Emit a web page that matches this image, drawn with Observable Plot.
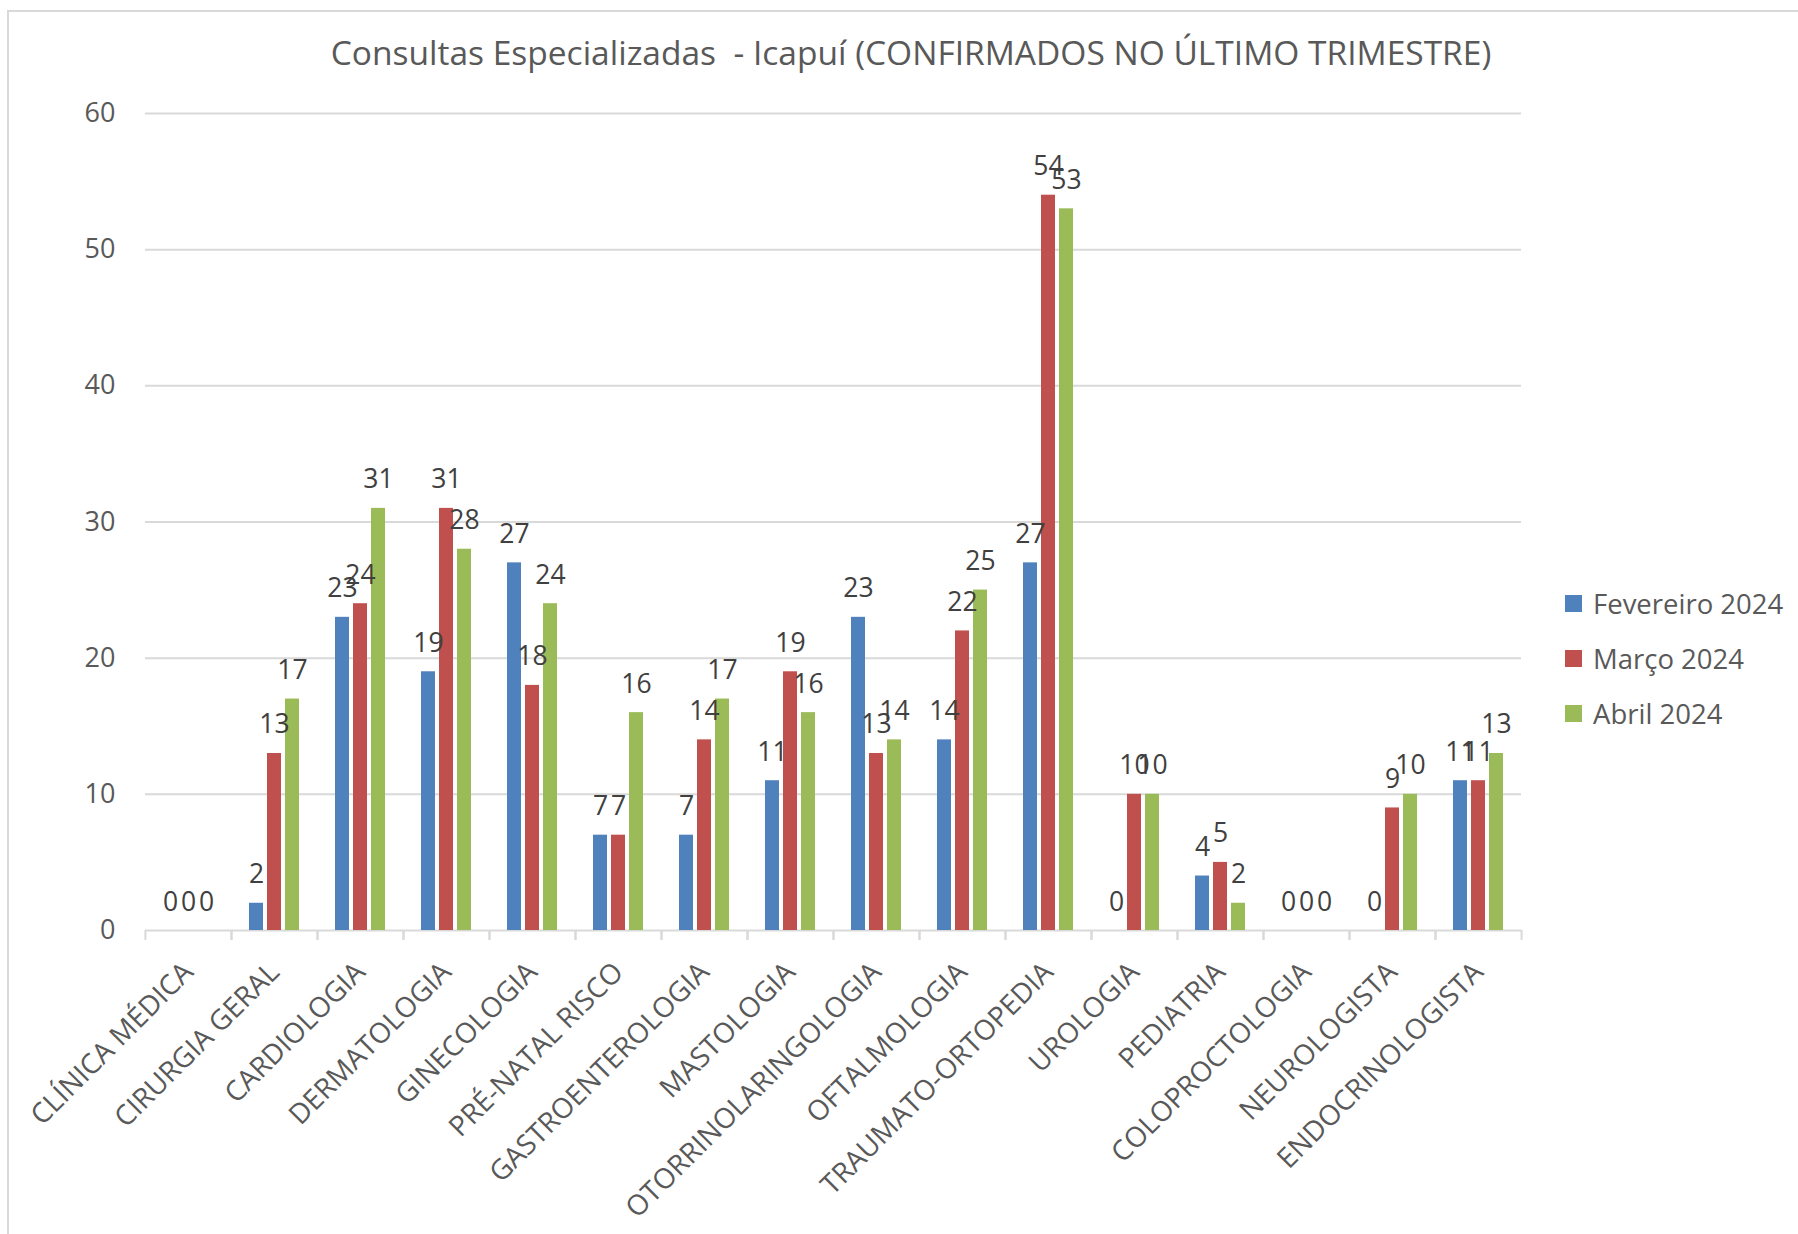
<!DOCTYPE html>
<html>
<head>
<meta charset="utf-8">
<script src="https://cdn.jsdelivr.net/npm/d3@7"></script>
<script src="https://cdn.jsdelivr.net/npm/@observablehq/plot@0.6"></script>
<style>
  body { margin: 0; background: #fff; font-family: "Open Sans", sans-serif; }
  #wrap { position: relative; width: 1798px; height: 1234px; overflow: hidden; background: #fff; }
  #frame { position: absolute; left: 7px; top: 10px; right: -10px; bottom: -10px;
           border-left: 2px solid #d9d9d9; border-top: 2px solid #d9d9d9; }
  #chart { position: absolute; left: 0; top: 0; }
  #title { position: absolute; top: 36px; left: 911px; transform: translateX(-50%);
           white-space: pre; font-size: 33.5px; line-height: 1; color: #595959; }
  #legend { position: absolute; left: 1565px; top: 576px; }
  .row { display: flex; align-items: center; height: 55px; }
  .sw { width: 17px; height: 17px; margin-right: 11px; }
  .lab { font-size: 27.5px; color: #595959; white-space: nowrap; }
</style>
</head>
<body>
<div id="wrap">
  <div id="frame"></div>
  <div id="chart"></div>
  <div id="title"></div>
  <div id="legend"></div>
</div>
<script>
const titleText = "Consultas Especializadas  - Icapuí (CONFIRMADOS NO ÚLTIMO TRIMESTRE)";
const categories = [
  "CLÍNICA MÉDICA", "CIRURGIA GERAL", "CARDIOLOGIA", "DERMATOLOGIA", "GINECOLOGIA",
  "PRÉ-NATAL RISCO", "GASTROENTEROLOGIA", "MASTOLOGIA", "OTORRINOLARINGOLOGIA",
  "OFTALMOLOGIA", "TRAUMATO-ORTOPEDIA", "UROLOGIA", "PEDIATRIA", "COLOPROCTOLOGIA",
  "NEUROLOGISTA", "ENDOCRINOLOGISTA"
];
const fevereiro = [0, 2, 23, 19, 27, 7, 7, 11, 23, 14, 27, 0, 4, 0, 0, 11];
const marco     = [0, 13, 24, 31, 18, 7, 14, 19, 13, 22, 54, 10, 5, 0, 9, 11];
const abril     = [0, 17, 31, 28, 24, 16, 17, 16, 14, 25, 53, 10, 2, 0, 10, 13];
const series = ["Fevereiro 2024", "Março 2024", "Abril 2024"];
const seriesColors = ["#4F81BD", "#C0504D", "#9BBB59"];
const yTicks = [0, 10, 20, 30, 40, 50, 60];

const seriesValues = [fevereiro, marco, abril];
const data = categories.flatMap((c, i) =>
  series.map((s, j) => ({category: c, series: s, value: seriesValues[j][i]}))
);

const W = 1798, H = 1234, ML = 143, MR = 276, MT = 113, MB = 304;
const step = (W - ML - MR) / categories.length;
const font = "'Open Sans', sans-serif";

const chart = Plot.plot({
  width: W, height: H,
  marginLeft: ML, marginRight: MR, marginTop: MT, marginBottom: MB,
  style: {fontFamily: font, background: "transparent", overflow: "visible"},
  fx: {domain: categories, padding: 0, axis: null},
  x: {domain: series, paddingInner: 0.2105, paddingOuter: 0.873, axis: null},
  y: {domain: [0, 60], axis: null},
  color: {domain: series, range: seriesColors},
  marks: [
    Plot.gridY(yTicks, {stroke: "#d9d9d9", strokeOpacity: 1, strokeWidth: 2}),
    Plot.axisY(yTicks, {tickSize: 0, tickPadding: 30, fontSize: 27, fill: "#595959", label: null}),
    Plot.axisFx({anchor: "bottom", tickSize: 10, text: null, stroke: "#d9d9d9", strokeWidth: 2, dx: -step / 2, label: null}),
    Plot.axisFx([categories[categories.length - 1]], {anchor: "bottom", tickSize: 10, text: null, stroke: "#d9d9d9", strokeWidth: 2, dx: step / 2, label: null}),
    Plot.axisFx({anchor: "bottom", tickSize: 0, tickRotate: -45, tickPadding: 37, textAnchor: "end", lineAnchor: "middle",
                 fontSize: 28, fill: "#595959", label: null}),
    Plot.barY(data, {fx: "category", x: "series", y: "value", fill: "series"}),
    Plot.text(data, {fx: "category", x: "series", y: "value", text: d => String(d.value),
                     lineAnchor: "bottom", dy: -20, fontSize: 26.5, fill: "#404040"})
  ]
});
document.getElementById("chart").appendChild(chart);
document.getElementById("title").textContent = titleText;

const legend = document.getElementById("legend");
series.forEach((s, i) => {
  const row = document.createElement("div");
  row.className = "row";
  const sw = document.createElement("div");
  sw.className = "sw";
  sw.style.background = seriesColors[i];
  const lab = document.createElement("div");
  lab.className = "lab";
  lab.textContent = s;
  row.appendChild(sw);
  row.appendChild(lab);
  legend.appendChild(row);
});
</script>
</body>
</html>
